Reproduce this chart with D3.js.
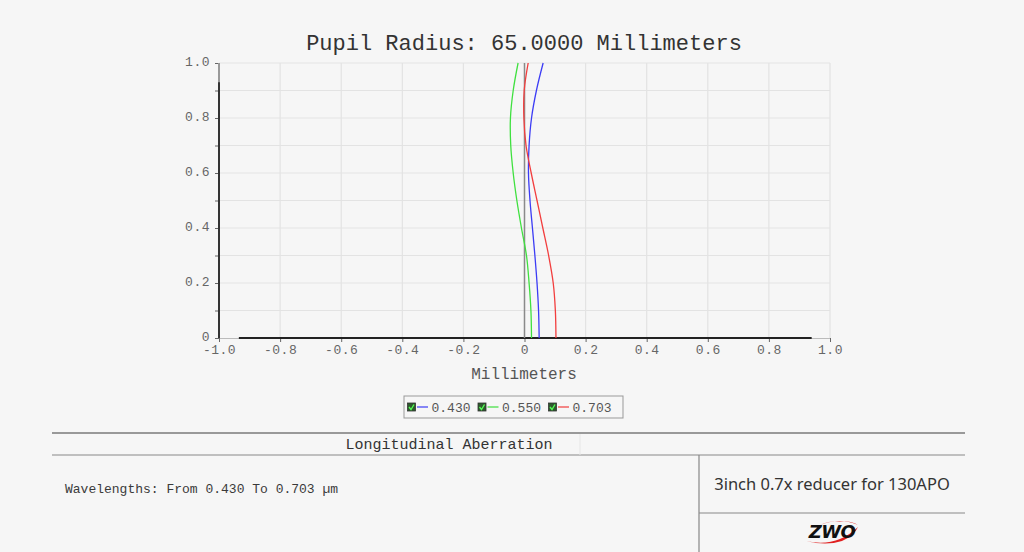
<!DOCTYPE html>
<html>
<head>
<meta charset="utf-8">
<script src="https://cdn.jsdelivr.net/npm/d3@7"></script>
<style>
  body { margin: 0; background: #f6f6f6; }
  svg { display: block; }
  .mono { font-family: "Courier New", "Liberation Mono", monospace; }
</style>
</head>
<body>
<div class="graph"></div>
<script>
// pupil coordinate (relative) and focus shift in mm for each wavelength
const pupil = [0, 0.1, 0.2, 0.3, 0.4, 0.5, 0.6, 0.7, 0.8, 0.9, 1.0]
const blue430 = [0.048, 0.046, 0.041, 0.034, 0.026, 0.018, 0.013, 0.015, 0.023, 0.039, 0.061]
const green550 = [0.023, 0.021, 0.015, 0.0065, -0.010, -0.025, -0.037, -0.045, -0.046, -0.037, -0.021]
const red703 = [0.103, 0.101, 0.094, 0.079, 0.060, 0.041, 0.022, 0.005, -0.002, -0.001, 0.012]

const xTicks = [-1.0, -0.8, -0.6, -0.4, -0.2, 0, 0.2, 0.4, 0.6, 0.8, 1.0]
const yTicks = [0, 0.2, 0.4, 0.6, 0.8, 1.0]
const yGrid = [0.1, 0.2, 0.3, 0.4, 0.5, 0.6, 0.7, 0.8, 0.9, 1.0]

const series = [
  {name: "0.430", color: "#3c3cf5", values: blue430},
  {name: "0.550", color: "#3fe03f", values: green550},
  {name: "0.703", color: "#f23e3e", values: red703}
]

const W = 1024, H = 552
const svg = d3.select(".graph").append("svg")
  .attr("width", W).attr("height", H)

const x = d3.scaleLinear().domain([-1, 1]).range([219, 830])
const y = d3.scaleLinear().domain([0, 1]).range([338, 63])

const fmt = d => d === 0 ? "0" : d3.format(".1f")(d).replace("\u2212", "-")

// grid
svg.append("g").selectAll("line").data(yGrid).join("line")
  .attr("x1", x(-1)).attr("x2", x(1))
  .attr("y1", d => y(d)).attr("y2", d => y(d))
  .attr("stroke", "#e3e3e3").attr("stroke-width", 1.2)
svg.append("g").selectAll("line").data(xTicks.slice(1)).join("line")
  .attr("x1", d => x(d)).attr("x2", d => x(d))
  .attr("y1", y(0)).attr("y2", y(1))
  .attr("stroke", "#e3e3e3").attr("stroke-width", 1.2)

// x axis
const xAxis = svg.append("g")
  .attr("transform", `translate(0,${y(0)})`)
  .call(d3.axisBottom(x).tickValues(xTicks).tickFormat(fmt).tickSize(4).tickPadding(3))
xAxis.select(".domain").attr("stroke", "#bbb")
xAxis.selectAll(".tick line").attr("stroke", "#666")
xAxis.selectAll("text").attr("class", "mono").attr("font-size", 13).attr("fill", "#666")
  .attr("letter-spacing", 0.5)

// y axis
const yAxis = svg.append("g")
  .attr("transform", `translate(${x(-1)},0)`)
  .call(d3.axisLeft(y).tickValues(yGrid.concat([0])).tickFormat(d => yTicks.some(t => Math.abs(t - d) < 1e-9) ? fmt(d) : "").tickSize(4).tickPadding(5))
yAxis.select(".domain").remove()
yAxis.selectAll(".tick line").attr("stroke", "#666")
yAxis.selectAll("text").attr("class", "mono").attr("font-size", 13).attr("fill", "#666")
  .attr("letter-spacing", 0.5).attr("dy", "0.2em")

// thick axis lines
svg.append("line")
  .attr("x1", x(-1)).attr("x2", x(-1)).attr("y1", y(1)).attr("y2", y(0))
  .attr("stroke", "#333").attr("stroke-width", 2)
svg.append("line")
  .attr("x1", x(-1)).attr("x2", x(-1)).attr("y1", y(1)).attr("y2", y(0.93))
  .attr("stroke", "#999").attr("stroke-width", 2)
svg.append("line")
  .attr("x1", x(-0.935)).attr("x2", x(0.94)).attr("y1", y(0)).attr("y2", y(0))
  .attr("stroke", "#222").attr("stroke-width", 2.2)

// zero reference line
svg.append("line")
  .attr("x1", x(0)).attr("x2", x(0)).attr("y1", y(0)).attr("y2", y(1))
  .attr("stroke", "#8a8a8a").attr("stroke-width", 1.5)

// aberration curves
const line = d3.line()
  .x(d => x(d[1]))
  .y(d => y(d[0]))
  .curve(d3.curveCatmullRom)

series.forEach(s => {
  svg.append("path")
    .datum(pupil.map((p, i) => [p, s.values[i]]))
    .attr("fill", "none")
    .attr("stroke", s.color)
    .attr("stroke-width", 1.3)
    .attr("d", line)
})

// titles
svg.append("text").attr("class", "mono")
  .attr("x", 524).attr("y", 50).attr("text-anchor", "middle")
  .attr("font-size", 22).attr("fill", "#333")
  .text("Pupil Radius: 65.0000 Millimeters")
svg.append("text").attr("class", "mono")
  .attr("x", 524).attr("y", 379).attr("text-anchor", "middle")
  .attr("font-size", 16).attr("fill", "#555")
  .text("Millimeters")

// legend
svg.append("rect")
  .attr("x", 404).attr("y", 396).attr("width", 219).attr("height", 22)
  .attr("fill", "#f6f6f6").attr("stroke", "#999")
const leg = svg.append("g").selectAll("g").data(series).join("g")
  .attr("transform", (d, i) => `translate(${407.5 + i * 70.5},407)`)
leg.append("rect")
  .attr("x", 0).attr("y", -4).attr("width", 8).attr("height", 8)
  .attr("fill", "#2e5a2e").attr("stroke", "#333").attr("stroke-width", 0.8)
leg.append("path")
  .attr("d", "M1.5,0 L3.5,2.5 L6.5,-2.5")
  .attr("fill", "none").attr("stroke", "#5f5").attr("stroke-width", 1.3)
leg.append("line")
  .attr("x1", 9.5).attr("x2", 20.5).attr("y1", 0).attr("y2", 0)
  .attr("stroke", d => d.color).attr("stroke-width", 1.2)
leg.append("text").attr("class", "mono")
  .attr("x", 24).attr("y", 4.5)
  .attr("font-size", 13).attr("fill", "#555")
  .text(d => d.name)

// info table
const tbl = svg.append("g")
tbl.append("line").attr("x1", 52).attr("x2", 965).attr("y1", 433).attr("y2", 433)
  .attr("stroke", "#999").attr("stroke-width", 2)
tbl.append("line").attr("x1", 52).attr("x2", 965).attr("y1", 455).attr("y2", 455)
  .attr("stroke", "#888").attr("stroke-width", 1.2)
tbl.append("line").attr("x1", 580).attr("x2", 580).attr("y1", 434).attr("y2", 455)
  .attr("stroke", "#e6e6e6").attr("stroke-width", 1)
tbl.append("line").attr("x1", 699).attr("x2", 699).attr("y1", 455).attr("y2", 552)
  .attr("stroke", "#888").attr("stroke-width", 1.2)
tbl.append("line").attr("x1", 699).attr("x2", 965).attr("y1", 513).attr("y2", 513)
  .attr("stroke", "#888").attr("stroke-width", 1.2)

tbl.append("text").attr("class", "mono")
  .attr("x", 449).attr("y", 449).attr("text-anchor", "middle")
  .attr("font-size", 15).attr("fill", "#333")
  .text("Longitudinal Aberration")
tbl.append("text").attr("class", "mono")
  .attr("x", 65).attr("y", 493)
  .attr("font-size", 13).attr("fill", "#3a3a3a")
  .text("Wavelengths: From 0.430 To 0.703 \u00b5m")
tbl.append("text")
  .attr("x", 832).attr("y", 490).attr("text-anchor", "middle")
  .attr("font-family", "'Noto Sans', sans-serif")
  .attr("font-size", 16.5).attr("fill", "#333")
  .text("3inch 0.7x reducer for 130APO")

// logo
const logo = tbl.append("g").attr("transform", "translate(832,532)")
logo.append("path")
  .attr("d", "M-12,-7 Q8,-15 26,-7 Q20,-11 8,-11 Q-4,-11 -12,-7 Z")
  .attr("fill", "#e02020")
logo.append("path")
  .attr("d", "M-26,9 Q4,16 26,-5 Q22,4 10,9 Q-6,14 -26,9 Z")
  .attr("fill", "#e02020")
logo.append("text")
  .attr("x", 0).attr("y", 6).attr("text-anchor", "middle")
  .attr("font-family", "'DejaVu Sans', sans-serif")
  .attr("font-size", 18).attr("font-weight", "bold").attr("font-style", "italic")
  .attr("letter-spacing", -0.5)
  .attr("fill", "#111")
  .text("ZWO")
</script>
</body>
</html>
